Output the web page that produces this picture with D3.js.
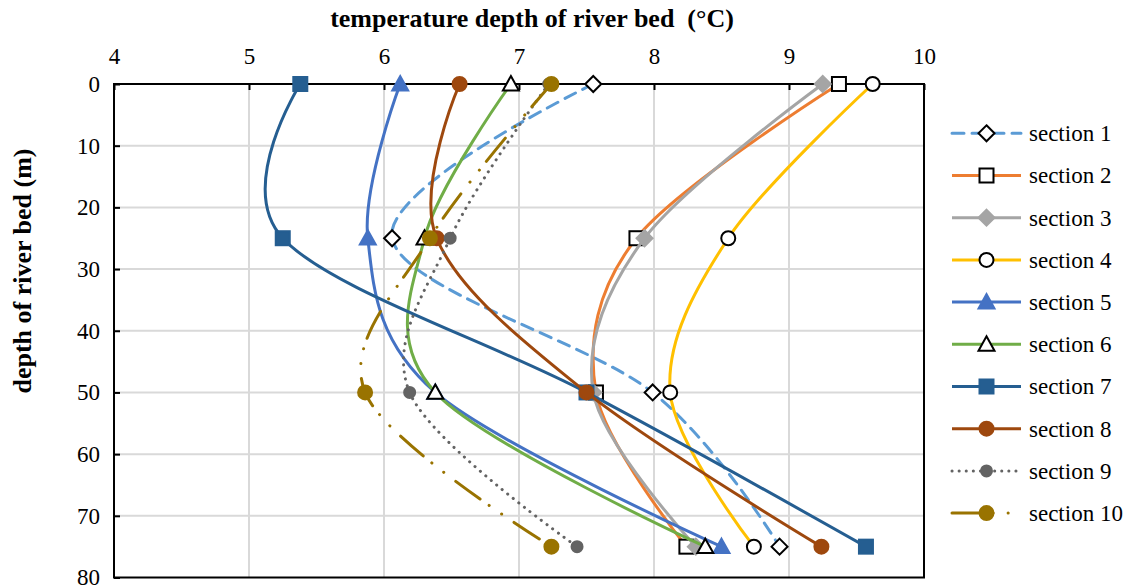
<!DOCTYPE html>
<html>
<head>
<meta charset="utf-8">
<script src="https://cdn.jsdelivr.net/npm/d3@7"></script>
<style>
  body { margin: 0; background: #fff; }
  svg text { font-family: "Liberation Serif", "DejaVu Serif", serif !important; fill: #000; }
</style>
</head>
<body>
<svg></svg>
<script>
// depth of river bed (m) for each reading
const depths = [0, 25, 50, 75];

// temperature (°C) of each section at those depths
const section1 = [7.55, 6.06, 7.99, 8.93];
const section2 = [9.37, 7.87, 7.57, 8.24];
const section3 = [9.25, 7.93, 7.55, 8.31];
const section4 = [9.62, 8.55, 8.12, 8.74];
const section5 = [6.12, 5.88, 6.38, 8.50];
const section6 = [6.94, 6.30, 6.38, 8.38];
const section7 = [5.38, 5.25, 7.50, 9.57];
const section8 = [6.56, 6.39, 7.50, 9.24];
const section9 = [7.22, 6.49, 6.19, 7.43];
const section10 = [7.24, 6.34, 5.86, 7.24];

const xTicks = [4, 5, 6, 7, 8, 9, 10];
const yTicks = [0, 10, 20, 30, 40, 50, 60, 70, 80];

const width = 1132, height = 587;
const margin = {top: 84, right: 208, bottom: 10, left: 114};
const serif = '"Liberation Serif", "DejaVu Serif", serif';

let svg = d3.select("svg").attr("width", width).attr("height", height);

const series = [
  {name: "section 1", values: section1, color: "#5B9BD5", dash: "12 8", marker: "diamond", fill: "#fff", mstroke: "#000"},
  {name: "section 2", values: section2, color: "#ED7D31", dash: null, marker: "square", fill: "#fff", mstroke: "#000"},
  {name: "section 3", values: section3, color: "#A5A5A5", dash: null, marker: "diamond", fill: "#A5A5A5", mstroke: "#A5A5A5"},
  {name: "section 4", values: section4, color: "#FFC000", dash: null, marker: "circle", fill: "#fff", mstroke: "#000"},
  {name: "section 5", values: section5, color: "#4472C4", dash: null, marker: "triangle", fill: "#4472C4", mstroke: "#4472C4"},
  {name: "section 6", values: section6, color: "#70AD47", dash: null, marker: "triangle", fill: "#fff", mstroke: "#000"},
  {name: "section 7", values: section7, color: "#255E91", dash: null, marker: "square", fill: "#255E91", mstroke: "#255E91"},
  {name: "section 8", values: section8, color: "#9E480E", dash: null, marker: "circle", fill: "#9E480E", mstroke: "#9E480E"},
  {name: "section 9", values: section9, color: "#636363", dash: "0.1 7", marker: "circle", fill: "#636363", mstroke: "#636363", small: true},
  {name: "section 10", values: section10, color: "#997300", dash: "30 11 0.1 15 0.1 15", marker: "circle", fill: "#997300", mstroke: "#997300"}
];

let xScale = d3.scaleLinear().domain([4, 10]).range([margin.left, 924]);
let yScale = d3.scaleLinear().domain([0, 80]).range([margin.top, 577.5]);

// gridlines
svg.append("g").selectAll("line")
  .data(xTicks.slice(1, -1)).enter().append("line")
  .attr("x1", d => xScale(d)).attr("x2", d => xScale(d))
  .attr("y1", yScale(0)).attr("y2", yScale(80))
  .attr("stroke", "#d9d9d9").attr("stroke-width", 2);
svg.append("g").selectAll("line")
  .data(yTicks.slice(1, -1)).enter().append("line")
  .attr("y1", d => yScale(d)).attr("y2", d => yScale(d))
  .attr("x1", xScale(4)).attr("x2", xScale(10))
  .attr("stroke", "#d9d9d9").attr("stroke-width", 2);

// frame
svg.append("rect")
  .attr("x", xScale(4)).attr("y", yScale(0))
  .attr("width", xScale(10) - xScale(4)).attr("height", yScale(80) - yScale(0))
  .attr("fill", "none").attr("stroke", "#000").attr("stroke-width", 2);

// axes
let xAxis = svg.append("g").attr("transform", `translate(0,${yScale(0)})`)
  .call(d3.axisTop(xScale).tickValues(xTicks).tickFormat(d3.format("d"))
    .tickSizeInner(-6).tickSizeOuter(0).tickPadding(20));
let yAxis = svg.append("g").attr("transform", `translate(${xScale(4)},0)`)
  .call(d3.axisLeft(yScale).tickValues(yTicks).tickFormat(d3.format("d"))
    .tickSizeInner(-6).tickSizeOuter(0).tickPadding(14));
[xAxis, yAxis].forEach(a => {
  a.attr("font-family", serif);
  a.select(".domain").remove();
  a.selectAll(".tick line").attr("stroke", "#000").attr("stroke-width", 2);
  a.selectAll(".tick text").style("font-family", serif).style("font-size", "23px").attr("fill", "#000");
});

// titles
svg.append("text").attr("x", 532).attr("y", 27)
  .attr("text-anchor", "middle").style("font-family", serif)
  .style("font-size", "26px").style("font-weight", "bold")
  .style("white-space", "pre")
  .text("temperature depth of river bed  (°C)");
svg.append("text").attr("transform", "translate(31,271) rotate(-90)")
  .attr("text-anchor", "middle").style("font-family", serif)
  .style("font-size", "26px").style("font-weight", "bold")
  .text("depth of river bed (m)");

function drawMarker(g, type, cx, cy, s) {
  let size = s.small ? 11 : 14;
  if (type === "diamond") {
    let r = size / 2 + 1;
    g.append("path").attr("d", `M${cx},${cy - r}L${cx + r},${cy}L${cx},${cy + r}L${cx - r},${cy}Z`)
      .attr("fill", s.fill).attr("stroke", s.mstroke).attr("stroke-width", 2);
  } else if (type === "square") {
    let r = size / 2;
    g.append("rect").attr("x", cx - r).attr("y", cy - r).attr("width", size).attr("height", size)
      .attr("fill", s.fill).attr("stroke", s.mstroke).attr("stroke-width", 2);
  } else if (type === "triangle") {
    let r = size / 2 + 1;
    g.append("path").attr("d", `M${cx},${cy - r}L${cx + r},${cy + r * 0.8}L${cx - r},${cy + r * 0.8}Z`)
      .attr("fill", s.fill).attr("stroke", s.mstroke).attr("stroke-width", 2);
  } else {
    g.append("circle").attr("cx", cx).attr("cy", cy).attr("r", size / 2)
      .attr("fill", s.fill).attr("stroke", s.mstroke).attr("stroke-width", 2);
  }
}

let line = d3.line()
  .x(d => xScale(d[0]))
  .y(d => yScale(d[1]))
  .curve(d3.curveCardinal.tension(0));

series.forEach(s => {
  let pts = s.values.map((v, i) => [v, depths[i]]);
  let g = svg.append("g");
  g.append("path").datum(pts).attr("d", line)
    .attr("fill", "none").attr("stroke", s.color).attr("stroke-width", 3)
    .attr("stroke-linecap", s.dash ? "round" : "butt")
    .attr("stroke-dasharray", s.dash);
  pts.forEach(p => drawMarker(g, s.marker, xScale(p[0]), yScale(p[1]), s));
});

// legend
let legend = svg.append("g");
series.forEach((s, i) => {
  let ly = 133.3 + i * 42.2;
  let g = legend.append("g");
  g.append("line").attr("x1", 952).attr("x2", 1021).attr("y1", ly).attr("y2", ly)
    .attr("stroke", s.color).attr("stroke-width", 3)
    .attr("stroke-linecap", s.dash ? "round" : "butt")
    .attr("stroke-dasharray", s.dash);
  drawMarker(g, s.marker, 986.5, ly, s);
  g.append("text").attr("x", 1029).attr("y", ly + 7.8)
    .style("font-family", serif).style("font-size", "23px").text(s.name);
});
</script>
</body>
</html>
